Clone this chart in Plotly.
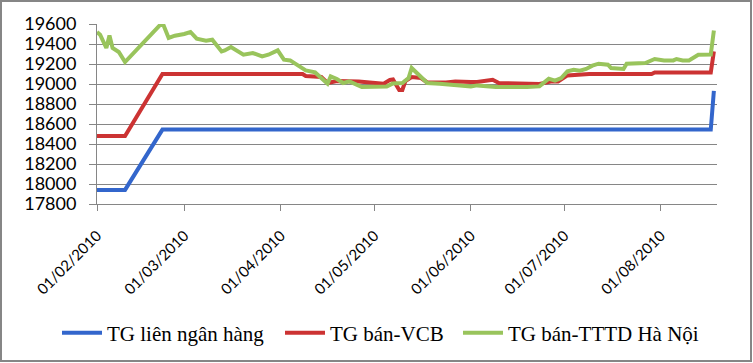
import plotly.graph_objects as go

# ---- data ----
blue_dates = ["2010-02-01", "2010-02-10", "2010-02-22", "2010-08-17", "2010-08-18"]
blue_vals = [17941, 17941, 18544, 18544, 18932]

red_dates = ["2010-02-01", "2010-02-10", "2010-02-22", "2010-04-08", "2010-04-09",
             "2010-04-14", "2010-04-16", "2010-04-19", "2010-04-26", "2010-04-30",
             "2010-05-04", "2010-05-06", "2010-05-07", "2010-05-09", "2010-05-10",
             "2010-05-11", "2010-05-13", "2010-05-16", "2010-05-18", "2010-05-24",
             "2010-05-27", "2010-06-01", "2010-06-03", "2010-06-08", "2010-06-10",
             "2010-06-23", "2010-06-27", "2010-06-29", "2010-07-02", "2010-07-09",
             "2010-07-29", "2010-07-30", "2010-08-17", "2010-08-18"]
red_vals = [18479, 18479, 19100, 19100, 19080,
            19070, 19010, 19030, 19026, 19010,
            19003, 19040, 19045, 18940, 18940,
            19030, 19070, 19060, 19016, 19016,
            19026, 19020, 19020, 19043, 19010,
            19000, 19026, 19026, 19086, 19100,
            19100, 19115, 19115, 19326]

green_dates = ["2010-02-01", "2010-02-02", "2010-02-04", "2010-02-05", "2010-02-06",
               "2010-02-08", "2010-02-10", "2010-02-22", "2010-02-24", "2010-02-26",
               "2010-03-01", "2010-03-03", "2010-03-05", "2010-03-08", "2010-03-10",
               "2010-03-13", "2010-03-14", "2010-03-16", "2010-03-20", "2010-03-23",
               "2010-03-26", "2010-03-28", "2010-03-31", "2010-04-02", "2010-04-04",
               "2010-04-09", "2010-04-12", "2010-04-16", "2010-04-17", "2010-04-19",
               "2010-04-21", "2010-04-23", "2010-04-27", "2010-05-05", "2010-05-07",
               "2010-05-10", "2010-05-12", "2010-05-13", "2010-05-16", "2010-05-18",
               "2010-05-22", "2010-05-28", "2010-06-01", "2010-06-03", "2010-06-09",
               "2010-06-19", "2010-06-23", "2010-06-26", "2010-06-28", "2010-06-30",
               "2010-07-02", "2010-07-04", "2010-07-06", "2010-07-08", "2010-07-10",
               "2010-07-12", "2010-07-15", "2010-07-16", "2010-07-18", "2010-07-20",
               "2010-07-21", "2010-07-27", "2010-07-30", "2010-08-02", "2010-08-05",
               "2010-08-06", "2010-08-08", "2010-08-10", "2010-08-13", "2010-08-17",
               "2010-08-18"]
green_vals = [19520, 19493, 19360, 19486, 19360,
              19320, 19220, 19615, 19460, 19483,
              19500, 19520, 19453, 19433, 19443,
              19326, 19336, 19370, 19293, 19310,
              19276, 19293, 19336, 19243, 19236,
              19136, 19116, 19003, 19076, 19050,
              19010, 19026, 18970, 18976, 19005,
              19010, 19060, 19160, 19070, 19010,
              19003, 18986, 18976, 18986, 18970,
              18970, 18976, 19053, 19033, 19060,
              19126, 19143, 19133, 19150, 19183,
              19203, 19193, 19160, 19160, 19150,
              19203, 19210, 19250, 19236, 19236,
              19250, 19236, 19236, 19293, 19295,
              19536]

series_names = ["TG liên ngân hàng", "TG bán-VCB", "TG bán-TTTD Hà Nội"]
series_colors = ["#3366cc", "#cc3333", "#99c45c"]

tick_vals = ["2010-02-01", "2010-03-01", "2010-04-01", "2010-05-01",
             "2010-06-01", "2010-07-01", "2010-08-01"]
tick_text = ["01/02/2010", "01/03/2010", "01/04/2010", "01/05/2010",
             "01/06/2010", "01/07/2010", "01/08/2010"]
y_ticks = list(range(17800, 19601, 200))

# ---- figure ----
W, H = 753, 363
L, R, T, B = 97, 36, 24, 159
pw, ph = W - L - R, H - T - B

legend_ids = ["legend", "legend2", "legend3"]
legend_px = [57, 280, 458]

fig = go.Figure()
for d, v, n, c, lg in zip([blue_dates, red_dates, green_dates],
                          [blue_vals, red_vals, green_vals],
                          series_names, series_colors, legend_ids):
    fig.add_trace(go.Scatter(x=d, y=v, mode="lines", name=n, legend=lg,
                             line=dict(color=c, width=4)))

legend_style = dict(orientation="h", xanchor="left",
                    y=(T + ph - 333) / ph, yanchor="middle",
                    bgcolor="rgba(0,0,0,0)",
                    font=dict(family="Liberation Serif", size=21, color="black"),
                    itemwidth=40)
layout_legends = {lg: dict(legend_style, x=(px - L) / pw)
                  for lg, px in zip(legend_ids, legend_px)}

fig.update_layout(
    width=W, height=H,
    margin=dict(l=L, r=R, t=T, b=B, autoexpand=False),
    paper_bgcolor="white", plot_bgcolor="white",
    showlegend=True,
    shapes=[dict(type="rect", xref="paper", yref="paper",
                 x0=(1 - L) / pw, x1=(751 - L) / pw,
                 y0=(T + ph - 361) / ph, y1=(T + ph - 1) / ph,
                 line=dict(color="#868686", width=2), layer="below")],
    **layout_legends,
)
fig.update_xaxes(
    type="date", range=["2010-02-01", "2010-08-19"], automargin=False,
    tickvals=tick_vals, ticktext=tick_text, tickangle=-45,
    ticks="outside", ticklen=6, tickcolor="#868686", ticklabelstandoff=10,
    showline=True, linecolor="#868686", linewidth=1,
    showgrid=False, zeroline=False,
    tickfont=dict(family="Lato", size=15, color="black"),
)
fig.update_yaxes(
    range=[17800, 19600], tickvals=y_ticks, tickformat="d", automargin=False,
    showgrid=True, gridcolor="#868686", gridwidth=1,
    showline=True, linecolor="#868686", linewidth=1,
    ticks="outside", ticklen=7, tickcolor="#868686",
    zeroline=False, ticklabelstandoff=9,
    tickfont=dict(family="Lato", size=18, color="black"),
)

fig.write_html("out.html", config={"displayModeBar": False},
               post_script="document.body.style.margin='0';document.body.style.padding='0';")
